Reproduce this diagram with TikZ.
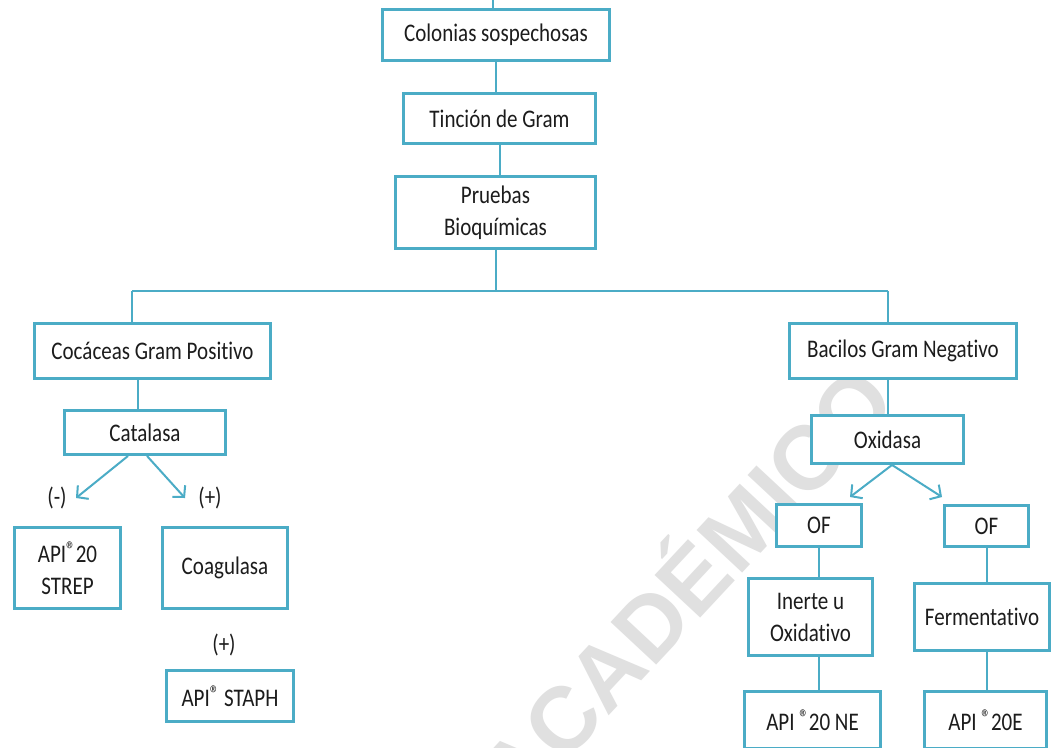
\documentclass[tikz,border=0pt]{standalone}
\usepackage{fontspec}
\setmainfont{Carlito}[FakeStretch=0.83, Ligatures=CommonOff]
\newfontfamily\wmfont{Liberation Sans}
\usetikzlibrary{arrows.meta}
\definecolor{boxblue}{RGB}{75,172,198}
\definecolor{txt}{RGB}{28,28,28}
\definecolor{wmgray}{RGB}{224,224,224}
\newcommand\regmark{\raisebox{0.45ex}{\fontsize{17}{17}\selectfont ®}}
\begin{document}
\begin{tikzpicture}[x=0.75pt,y=-0.75pt,
  box/.style={draw=boxblue, line width=2.2pt, fill=white, text=txt, align=center, inner sep=0pt, font=\fontsize{19}{24}\selectfont},
  link/.style={draw=boxblue, line width=1.5pt},
  arr/.style={link, -{Straight Barb[length=6pt,width=13pt]}},
  lab/.style={text=txt, font=\fontsize{19}{24}\selectfont},
  wm/.style={text=wmgray, font=\wmfont\bfseries\fontsize{68}{68}\selectfont}]
\useasboundingbox (0,0) rectangle (1052,747);
\clip (0,0) rectangle (1052,747);
\fill[white] (0,0) rectangle (1052,747);
% watermark
\node[wm, rotate=47] (mark) at (680,582) {ACADÉMICO};
% boxes
\node[box, minimum width=170.25pt, minimum height=38.25pt] (col) at (496,35) {Colonias sospechosas};
\node[box, minimum width=144pt, minimum height=37.5pt] (tin) at (499.5,118.5) {Tinción de Gram};
\node[box, minimum width=150pt, minimum height=54pt] (pru) at (495.5,212.5) {Pruebas\\Bioquímicas};
\node[box, minimum width=177pt, minimum height=41.25pt] (coc) at (152.5,351) {Cocáceas Gram Positivo};
\node[box, minimum width=170.25pt, minimum height=41.25pt] (bac) at (903,351) {Bacilos Gram Negativo};
\node[box, minimum width=120.75pt, minimum height=33pt] (cat) at (145,432.5) {Catalasa};
\node[box, minimum width=79.5pt, minimum height=60.75pt] (str) at (67.5,568) {API\regmark20\\STREP};
\node[box, minimum width=93.75pt, minimum height=60.75pt] (coa) at (225,568) {Coagulasa};
\node[box, minimum width=95.25pt, minimum height=38.25pt] (sta) at (230,696) {API\regmark{} STAPH};
\node[box, minimum width=114pt, minimum height=36pt] (oxi) at (887.5,439.5) {Oxidasa};
\node[box, minimum width=63.75pt, minimum height=31.5pt] (of1) at (819,525.5) {OF};
\node[box, minimum width=63pt, minimum height=30.75pt] (of2) at (986.5,526) {OF};
\node[box, minimum width=93pt, minimum height=57.75pt] (ine) at (810.5,617) {Inerte u\\Oxidativo};
\node[box, minimum width=101.25pt, minimum height=50.25pt] (fer) at (982,617) {Fermentativo};
\node[box, minimum width=102pt, minimum height=42.75pt] (ne) at (812.5,720) {API \regmark20 NE};
\node[box, minimum width=91.5pt, minimum height=42.75pt] (e20) at (985.5,720) {API \regmark20E};
% labels
\node[lab] (neg) at (57,498) {(-)};
\node[lab] (pos1) at (210,498) {(+)};
\node[lab] (pos2) at (224,645) {(+)};
% connectors
\coordinate (topin) at (493,-10);
\draw[link] (topin) -- (topin |- col.north);
\draw[link] (col.south) -- (col.south |- tin.north);
\draw[link] (tin.south) -- (tin.south |- pru.north);
\coordinate (bl) at (132,291);
\coordinate (br) at (888,291);
\draw[link] (pru.south) -- (pru.south |- bl);
\draw[link] (bl) -- (br);
\draw[link] (bl) -- (bl |- coc.north);
\draw[link] (br) -- (br |- bac.north);
\draw[link] ([xshift=-5.25pt]cat.north) -- ([xshift=-5.25pt]cat.north |- coc.south);
\draw[link] (oxi.north) -- (oxi.north |- bac.south);
\draw[link] (of1.south) -- (of1.south |- ine.north);
\draw[link] (of1.south |- ine.south) -- (of1.south |- ne.north);
\draw[link] (of2.south) -- (of2.south |- fer.north);
\draw[link] (of2.south |- fer.south) -- (of2.south |- e20.north);
% arrows
\coordinate (cl) at (76,498);
\coordinate (cr) at (185,498);
\draw[arr] ([xshift=-12.75pt]cat.south) -- (cl);
\draw[arr] ([xshift=1.5pt]cat.south) -- (cr);
\coordinate (ol) at (850,497);
\coordinate (or) at (942,497);
\draw[arr] ([xshift=3.4pt]oxi.south) -- (ol);
\draw[arr] ([xshift=3.4pt]oxi.south) -- (or);
\end{tikzpicture}
\end{document}
